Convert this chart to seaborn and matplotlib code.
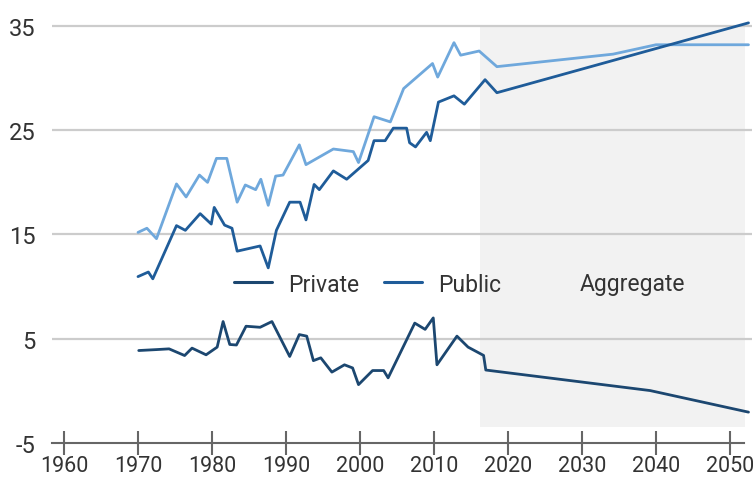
import matplotlib
matplotlib.use("Agg")
import matplotlib.pyplot as plt
from matplotlib import font_manager
from matplotlib.lines import Line2D
from matplotlib.patches import Rectangle
import seaborn as sns

# ---------------- data ----------------
years_aggregate = [1970.0, 1971.2, 1972.5, 1975.2, 1976.5, 1978.3, 1979.4, 1980.6, 1982.0,
                   1983.4, 1984.5, 1985.9, 1986.6, 1987.6, 1988.6, 1989.6, 1991.8, 1992.7,
                   1996.4, 1999.1, 1999.8, 2001.9, 2004.1, 2005.9, 2009.8, 2010.5, 2012.7,
                   2013.6, 2016.1, 2018.5, 2034.2, 2040.0, 2052.5]
aggregate = [15.2, 15.6, 14.6, 19.85, 18.6, 20.7, 20.0, 22.3, 22.3,
             18.1, 19.75, 19.3, 20.3, 17.8, 20.6, 20.7, 23.6, 21.7,
             23.2, 22.95, 21.9, 26.3, 25.8, 29.0, 31.4, 30.1, 33.4,
             32.2, 32.6, 31.1, 32.3, 33.2, 33.2]

years_public = [1970.0, 1971.4, 1972.0, 1975.2, 1976.4, 1978.4, 1979.9, 1980.3, 1981.7,
                1982.7, 1983.4, 1986.5, 1987.6, 1988.7, 1990.5, 1991.9, 1992.7, 1993.8,
                1994.5, 1996.4, 1998.2, 2001.1, 2001.9, 2003.4, 2004.5, 2006.3, 2006.7,
                2007.5, 2009.0, 2009.5, 2010.6, 2012.7, 2014.1, 2016.9, 2018.5, 2052.5]
public = [10.96, 11.4, 10.75, 15.85, 15.4, 17.0, 16.0, 17.6, 15.9,
          15.6, 13.4, 13.9, 11.8, 15.4, 18.1, 18.1, 16.4, 19.8,
          19.3, 21.1, 20.3, 22.1, 24.0, 24.0, 25.2, 25.2, 23.8,
          23.4, 24.8, 24.0, 27.7, 28.3, 27.5, 29.85, 28.6, 35.3]

years_private = [1970.1, 1972.5, 1974.2, 1976.3, 1977.3, 1979.2, 1980.7, 1981.5, 1982.4,
                 1983.3, 1984.6, 1986.5, 1988.1, 1990.5, 1991.8, 1992.8, 1993.7, 1994.7,
                 1996.2, 1997.9, 1999.0, 1999.8, 2001.7, 2003.2, 2003.8, 2007.4, 2008.8,
                 2009.9, 2010.4, 2013.1, 2014.6, 2016.7, 2017.0, 2039.2, 2052.5]
private = [3.87, 3.96, 4.03, 3.39, 4.1, 3.46, 4.2, 6.65, 4.45,
           4.4, 6.2, 6.1, 6.65, 3.3, 5.4, 5.25, 2.9, 3.17,
           1.8, 2.5, 2.2, 0.6, 1.95, 1.95, 1.25, 6.5, 5.9,
           7.0, 2.5, 5.25, 4.2, 3.4, 2.0, 0.03, -2.04]

projection_span = [2016.2, 2052.0]
series_labels = ["Private", "Public", "Aggregate"]
x_ticks = [1960, 1970, 1980, 1990, 2000, 2010, 2020, 2030, 2040, 2050]
y_ticks = [-5, 5, 15, 25, 35]

# ---------------- styling ----------------
sns.set_theme(style="white")
plt.rcParams["font.family"] = ["Roboto", "DejaVu Sans"]

c_private = "#1c4770"
c_public = "#1f5c99"
c_aggregate = "#6fa8dc"
text_c = "#333333"
axis_c = "#666666"

names = {f.name for f in font_manager.fontManager.ttflist}
if "Liberation Sans Narrow" in names:
    xfont, xsize = "Liberation Sans Narrow", 16.5
else:
    xfont, xsize = "Roboto", 15.5

W, H = 754, 485
fig = plt.figure(figsize=(W / 100, H / 100), dpi=100)
left_px, right_px, top_px, bottom_px = 52, 752, 8, 444
ax = fig.add_axes([left_px / W, (H - bottom_px) / H,
                   (right_px - left_px) / W, (bottom_px - top_px) / H])

# x mapping: px = 64 + (year-1960)*7.4
x0 = 1960 + (left_px - 64) / 7.4
x1 = 1960 + (right_px - 64) / 7.4
ax.set_xlim(x0, x1)
ax.set_ylim(-5, 35 + (27 - top_px) / 10.43)

# shaded projection area
ax.add_patch(Rectangle((projection_span[0], -3.45), projection_span[1] - projection_span[0],
                       35 + 3.45, facecolor="#f2f2f2", edgecolor="none", zorder=0))

# gridlines
for yv in y_ticks[1:]:
    ax.axhline(yv, color="#cccccc", lw=1.6, zorder=0.5)

lw = 2.0
sns.lineplot(x=years_aggregate, y=aggregate, ax=ax, color=c_aggregate, lw=lw,
             estimator=None, sort=False, zorder=3)
sns.lineplot(x=years_public, y=public, ax=ax, color=c_public, lw=lw,
             estimator=None, sort=False, zorder=3)
sns.lineplot(x=years_private, y=private, ax=ax, color=c_private, lw=lw,
             estimator=None, sort=False, zorder=3)

# axes styling
for s in ["top", "right", "left"]:
    ax.spines[s].set_visible(False)
ax.spines["bottom"].set_color(axis_c)
ax.spines["bottom"].set_linewidth(1.5)
ax.spines["bottom"].set_zorder(4)
ax.spines["bottom"].set_bounds(x0, 2051.9)

ax.set_xticks(x_ticks)
ax.set_xticklabels([str(t) for t in x_ticks], fontfamily=xfont, fontsize=xsize, color=text_c)
ax.tick_params(axis="x", direction="inout", length=17, width=1.5, color=axis_c, pad=0,
               bottom=True)
ax.set_yticks(y_ticks)
ax.set_yticklabels([str(t) for t in y_ticks], fontsize=17, color=text_c)
ax.tick_params(axis="y", length=0, pad=12, left=True)
ax.grid(False)

# legend
handles = [Line2D([], [], color=c_private, lw=2.2),
           Line2D([], [], color=c_public, lw=2.2),
           Line2D([], [], color="none", lw=2.2)]
leg = fig.legend(handles, series_labels, loc="center left",
                 bbox_to_anchor=(234 / W, (H - 285) / H), ncol=3, frameon=False,
                 fontsize=16.5, handlelength=1.65, handletextpad=0.7, columnspacing=1.1,
                 borderpad=0, borderaxespad=0)
for t in leg.get_texts():
    t.set_color(text_c)

fig.savefig("out.png", dpi=100)
